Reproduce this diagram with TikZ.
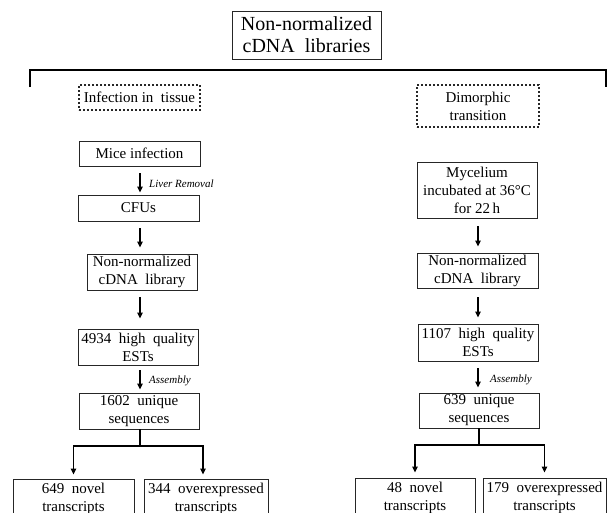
\documentclass[tikz,border=0pt]{standalone}
\usepackage{fontspec}
\setmainfont{Liberation Serif}
\usetikzlibrary{arrows.meta}
\begin{document}
\begin{tikzpicture}[x=1pt,y=-1pt,
  box/.style={draw=black!85, line width=0.9pt, align=center, inner sep=0pt,
    font=\fontsize{15}{18}\selectfont},
  dbox/.style={box, dash pattern=on 2pt off 2pt, line width=1.3pt},
  arr/.style={line width=1.3pt, -{Triangle[width=5.5pt,length=6pt]}},
  ln/.style={line width=1.5pt},
  lab/.style={font=\fontsize{11}{13}\selectfont\itshape, anchor=west, inner sep=0pt}]
\clip (0,0) rectangle (607,512);
\fill[white] (0,0) rectangle (607,512);

% title and bracket
\node[box, font=\fontsize{20}{22}\selectfont, minimum width=149pt, minimum height=48pt] (title) at (306.5,35) {Non-normalized\\cDNA~ libraries};
\coordinate (bl) at (30,87);
\coordinate (br) at (606,87);
\draw[ln] (bl) -- (bl |- 0,70) -- (br |- 0,70) -- (br);

% left column
\node[dbox, minimum width=121pt, minimum height=25pt] (inf) at (139.5,97.5) {Infection in~ tissue};
\node[box, minimum width=121pt, minimum height=25pt] (mice) at (139.5,153.5) {Mice infection};
\node[box, minimum width=121pt, minimum height=26pt] (cfu) at (138.5,208) {CFUs};
\node[box, minimum width=110pt, minimum height=36pt] (nnL) at (142,272) {Non-normalized\\cDNA~ library};
\node[box, minimum width=120pt, minimum height=36pt] (estL) at (138,347) {4934~ high~ quality\\ESTs};
\node[box, minimum width=120pt, minimum height=36pt] (uniqL) at (139,411) {1602~ unique\\sequences};
\node[box, minimum width=121pt, minimum height=40pt] (novL) at (73.5,499) {649~ novel\\transcripts};
\node[box, minimum width=124pt, minimum height=40pt] (ovL) at (206,499) {344~ overexpressed\\transcripts};

% right column
\node[dbox, minimum width=122pt, minimum height=42pt] (dim) at (478,106) {Dimorphic\\transition};
\node[box, minimum width=120pt, minimum height=56pt] (myc) at (477,190) {Mycelium\\incubated at 36°C\\for 22\,h};
\node[box, minimum width=121pt, minimum height=35pt] (nnR) at (477.5,270.5) {Non-normalized\\cDNA~ library};
\node[box, minimum width=120pt, minimum height=37pt] (estR) at (478,342.5) {1107~ high~ quality\\ESTs};
\node[box, minimum width=120pt, minimum height=35pt] (uniqR) at (479,410.5) {639~ unique\\sequences};
\node[box, minimum width=120pt, minimum height=40pt] (novR) at (415,498) {48~ novel\\transcripts};
\node[box, minimum width=123pt, minimum height=40pt] (ovR) at (544.5,498) {179~ overexpressed\\transcripts};

% left arrows
\coordinate (cL) at (140,0);
\draw[arr] (cL |- mice.south) ++(0,7) -- ([yshift=2pt]cL |- cfu.north);
\node[lab] (liver) at (149,184) {Liver Removal};
\draw[arr] (cL |- cfu.south) ++(0,7) -- ([yshift=6pt]cL |- nnL.north);
\draw[arr] (cL |- nnL.south) ++(0,7) -- ([yshift=10pt]cL |- estL.north);
\draw[arr] (cL |- estL.south) ++(0,5) -- ([yshift=3pt]cL |- uniqL.north);
\node[lab] (asmL) at (149,381) {Assembly};

% left split
\coordinate (jL) at (140,446);
\draw[ln] (uniqL.south -| jL) -- (jL);
\draw[arr] (jL) -| ([yshift=4pt]novL.north);
\draw[arr] (jL) -| ([yshift=4pt]ovL.north -| 203,0);

% right arrows
\coordinate (cR) at (478,0);
\draw[arr] (cR |- myc.south) ++(0,8) -- ([yshift=6pt]cR |- nnR.north);
\draw[arr] (cR |- nnR.south) ++(0,9) -- ([yshift=6pt]cR |- estR.north);
\draw[arr] (cR |- estR.south) ++(0,7) -- ([yshift=5pt]cR |- uniqR.north);
\node[lab] (asmR) at (490,380) {Assembly};

% right split
\coordinate (jR) at (479,445);
\draw[ln] (uniqR.south -| jR) -- (jR);
\draw[arr] (jR) -| ([yshift=5pt]novR.north);
\draw[arr] (jR) -| ([yshift=5pt]ovR.north);
\end{tikzpicture}
\end{document}
